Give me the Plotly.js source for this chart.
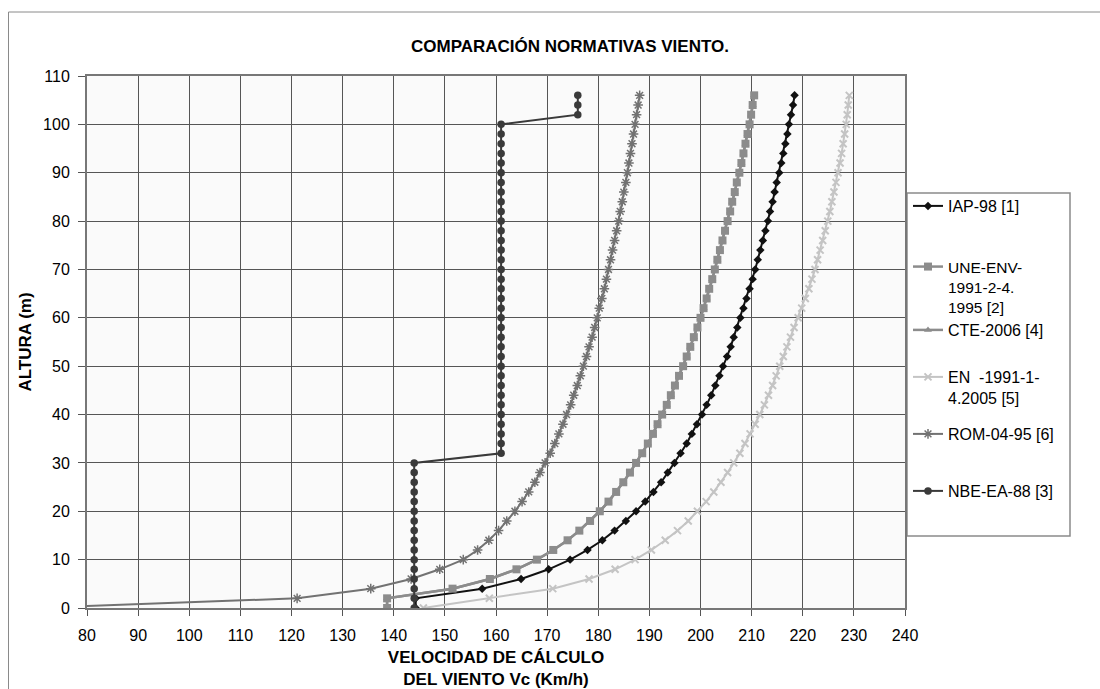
<!DOCTYPE html>
<html>
<head>
<meta charset="utf-8">
<script src="https://cdn.plot.ly/plotly-3.0.1.min.js"></script>
<style>
  html, body { margin: 0; padding: 0; background: #ffffff; }
  #chart { width: 1100px; height: 689px; }
</style>
</head>
<body>
<div id="chart"></div>
<script>
// Heights (m)
const alturas = [0,2,4,6,8,10,12,14,16,18,20,22,24,26,28,30,32,34,36,38,40,42,44,46,48,50,52,54,56,58,60,62,64,66,68,70,72,74,76,78,80,82,84,86,88,90,92,94,96,98,100,102,104,106];

// Wind speeds (km/h)
const iap98 = [144.3,144.3,157.3,164.9,170.3,174.5,177.9,180.8,183.2,185.4,187.4,189.2,190.8,192.3,193.6,194.9,196.1,197.3,198.3,199.3,200.3,201.2,202.1,202.9,203.7,204.4,205.2,205.9,206.5,207.2,207.8,208.4,209.0,209.6,210.2,210.7,211.2,211.7,212.2,212.7,213.2,213.6,214.1,214.5,214.9,215.4,215.8,216.2,216.6,217.0,217.3,217.7,218.1,218.4];
const uneEnv = [138.7,138.7,151.5,158.8,164.0,168.0,171.2,174.0,176.3,178.4,180.3,182.0,183.5,184.9,186.2,187.4,188.6,189.7,190.7,191.6,192.5,193.4,194.2,195.0,195.8,196.6,197.3,198.0,198.7,199.4,200.0,200.6,201.2,201.7,202.3,202.8,203.3,203.8,204.3,204.8,205.3,205.8,206.2,206.7,207.1,207.6,208.0,208.4,208.8,209.2,209.6,209.9,210.2,210.5];
const cte2006 = [138.7,138.7,151.5,158.8,164.0,168.0,171.2,174.0,176.3,178.4,180.3,182.0,183.5,184.9,186.2,187.4,188.6,189.7,190.7,191.6,192.5,193.4,194.2,195.0,195.8,196.6,197.3,198.0,198.7,199.4,200.0,200.6,201.2,201.7,202.3,202.8,203.3,203.8,204.3,204.8,205.3,205.8,206.2,206.7,207.1,207.6,208.0,208.4,208.8,209.2,209.6,209.9,210.2,210.5];
const en1991 = [145.8,158.7,171.1,178.2,183.3,187.2,190.4,193.1,195.5,197.6,199.4,201.1,202.6,204.0,205.3,206.5,207.7,208.7,209.7,210.7,211.6,212.5,213.3,214.1,214.8,215.5,216.2,216.9,217.6,218.3,219.1,219.8,220.5,221.2,221.8,222.4,222.9,223.4,223.9,224.4,224.9,225.3,225.7,226.1,226.5,226.9,227.3,227.6,227.9,228.2,228.5,228.7,228.9,229.1];
const rom0495 = [70.0,121.1,135.5,143.4,149.0,153.6,156.4,158.6,160.5,162.1,163.7,165.1,166.4,167.6,168.6,169.6,170.6,171.5,172.3,173.1,173.8,174.6,175.2,175.9,176.5,177.1,177.7,178.2,178.8,179.3,179.8,180.2,180.7,181.2,181.6,182.0,182.4,182.8,183.2,183.6,184.0,184.3,184.7,185.0,185.4,185.7,186.0,186.3,186.6,186.9,187.2,187.5,187.8,188.1];
const nbeEa88 = [144,144,144,144,144,144,144,144,144,144,144,144,144,144,144,144,161,161,161,161,161,161,161,161,161,161,161,161,161,161,161,161,161,161,161,161,161,161,161,161,161,161,161,161,161,161,161,161,161,161,161,176,176,176];

const nombres = ['IAP-98 [1]', 'UNE-ENV-<br>1991-2-4.<br>1995 [2]', 'CTE-2006 [4]', 'EN\u00a0\u00a0-1991-1-<br>4.2005 [5]', 'ROM-04-95 [6]', 'NBE-EA-88 [3]'];
const xTicks = [80,90,100,110,120,130,140,150,160,170,180,190,200,210,220,230,240];
const yTicks = [0,10,20,30,40,50,60,70,80,90,100,110];

const FONT = 'Liberation Sans, Arial, Helvetica, sans-serif';

function tr(x, name, legendId, color, lw, symbol, msize, mline) {
  return {
    type: 'scatter', mode: 'lines+markers',
    x: x, y: alturas, name: name, legend: legendId,
    line: {color: color, width: lw},
    marker: {symbol: symbol, size: msize, color: color, line: mline || {width: 0}},
    hoverinfo: 'x+y+name'
  };
}

const data = [
  tr(cte2006, nombres[2], 'legend3', '#8c8c8c', 2.5, 'triangle-up', 7),
  tr(iap98, nombres[0], 'legend', '#111111', 2, 'diamond', 6.5),
  tr(uneEnv, nombres[1], 'legend2', '#8c8c8c', 2.5, 'square', 8),
  tr(en1991, nombres[3], 'legend4', '#c4c4c4', 2, 'x-thin-open', 7, {width: 2, color: '#b4b4b4'}),
  tr(rom0495, nombres[4], 'legend5', '#727272', 2, 'asterisk-open', 8, {width: 1.5, color: '#727272'}),
  tr(nbeEa88, nombres[5], 'legend6', '#3a3a3a', 2, 'circle', 7.5)
];

// plot area: x 87..905, y 76..608
function py(px) { return (608 - px) / 532; }
function pxx(px) { return (px - 87) / 818; }

function leg(topPx, size) {
  return {
    x: pxx(908), xanchor: 'left', y: py(topPx), yanchor: 'top',
    bgcolor: 'rgba(0,0,0,0)', borderwidth: 0, valign: 'top',
    font: {family: FONT, size: size || 16, color: '#000'}
  };
}

const layout = {
  width: 1100, height: 689,
  margin: {l: 87, r: 195, t: 76, b: 81},
  paper_bgcolor: '#ffffff',
  plot_bgcolor: '#fafafa',
  font: {family: FONT, color: '#000'},
  title: {
    text: '<b>COMPARACIÓN NORMATIVAS VIENTO.</b>',
    font: {family: FONT, size: 17, color: '#000'},
    x: 570 / 1100, xanchor: 'center', xref: 'container',
    y: 1 - 46 / 689, yanchor: 'middle', yref: 'container'
  },
  xaxis: {
    range: [80, 240], tickvals: xTicks, ticktext: xTicks.map(String),
    showgrid: true, gridcolor: '#555555', gridwidth: 1,
    zeroline: false,
    ticks: 'outside', ticklen: 6, tickcolor: '#555', tickwidth: 1,
    ticklabelstandoff: 6,
    showline: true, linecolor: '#777777', linewidth: 2, mirror: true,
    tickfont: {family: FONT, size: 16, color: '#000'},
    title: {text: '<b>VELOCIDAD DE CÁLCULO<br>DEL VIENTO Vc (Km/h)</b>', font: {family: FONT, size: 17, color: '#000'}, standoff: 9}
  },
  yaxis: {
    range: [0, 110], tickvals: yTicks, ticktext: yTicks.map(String),
    showgrid: true, gridcolor: '#555555', gridwidth: 1,
    zeroline: false,
    ticks: 'outside', ticklen: 7, tickcolor: '#555', tickwidth: 1,
    ticklabelstandoff: 5,
    showline: true, linecolor: '#777777', linewidth: 2, mirror: true,
    tickfont: {family: FONT, size: 16, color: '#000'},
    title: {text: '<b>ALTURA (m)</b>', font: {family: FONT, size: 17, color: '#000'}, standoff: 7}
  },
  legend: leg(189),
  legend2: leg(250, 15.5),
  legend3: leg(313),
  legend4: leg(360),
  legend5: leg(417),
  legend6: leg(474),
  shapes: [
    {type: 'rect', xref: 'paper', yref: 'paper', layer: 'below',
     x0: pxx(8.5), x1: pxx(1110), y0: py(700), y1: py(12),
     line: {color: '#8a8a8a', width: 1}, fillcolor: 'rgba(0,0,0,0)'},
    {type: 'rect', xref: 'paper', yref: 'paper', layer: 'below',
     x0: pxx(907), x1: pxx(1070), y0: py(536), y1: py(193),
     line: {color: '#8a8a8a', width: 1.5}, fillcolor: '#ffffff'}
  ],
  showlegend: true
};

Plotly.newPlot('chart', data, layout, {displayModeBar: false, staticPlot: true});
</script>
</body>
</html>
